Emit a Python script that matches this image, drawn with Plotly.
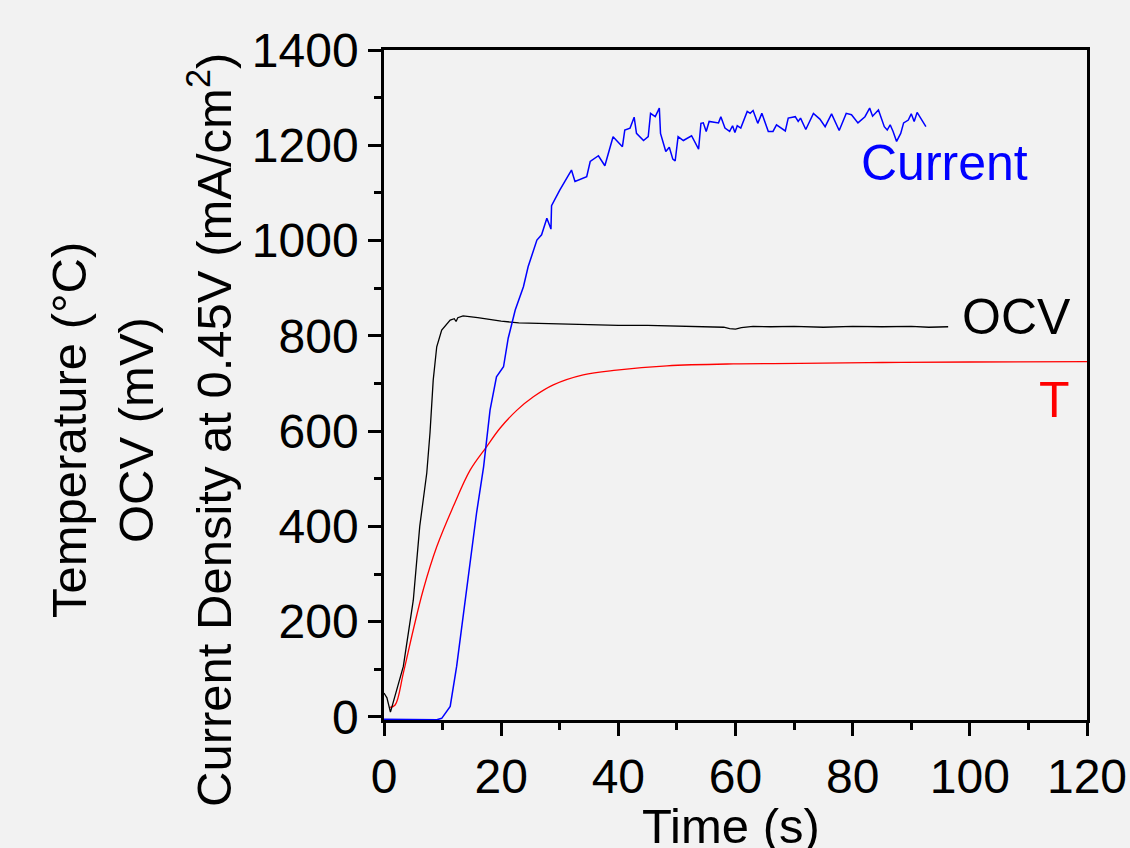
import plotly.graph_objects as go

# ---------------- data ----------------
time_current = [0, 5, 9, 9.85, 11.3, 12.4, 13.5, 14.7, 15.8, 17, 18.1, 19.2, 20.4, 21.2, 22.4, 23.8,
                24.6, 26.1, 26.9, 27.8, 28.5, 28.6, 30, 32, 32.6, 34.6, 35.2, 36.6, 37.7, 39.1, 40.7,
                41.1, 42, 42.7, 43.1, 44.3, 45.1, 45.5, 46.3, 47, 47.2, 48.1, 48.7, 49.3, 49.7, 50.2,
                51.1, 52.5, 53.7, 54.1, 54.5, 55, 55.5, 57.1, 57.5, 58.2, 59, 59.5, 59.9, 60.3, 60.9,
                62, 62.5, 63, 63.8, 64.5, 65.6, 66.4, 67, 68.5, 69, 70.2, 70.7, 71.1, 72, 73.3, 74.4,
                75.3, 76.4, 77.7, 78.9, 79.8, 80.9, 82.1, 82.9, 83.4, 84.4, 85.4, 85.9, 86.4, 86.9,
                87.5, 88.2, 88.7, 89.5, 90, 90.5, 91, 91.8, 92.5]
current = [-5, -5, -6, -3, 22, 106, 210, 315, 428, 525, 644, 714, 735, 795, 854, 903,
           945, 1001, 1012, 1047, 1024, 1073, 1106, 1148, 1124, 1134, 1166, 1178, 1157, 1218, 1197,
           1232, 1236, 1259, 1225, 1210, 1218, 1267, 1260, 1278, 1225, 1187, 1196, 1171, 1167, 1218,
           1210, 1220, 1192, 1246, 1247, 1229, 1250, 1247, 1260, 1236, 1229, 1241, 1227, 1241, 1236,
           1271, 1267, 1273, 1246, 1267, 1229, 1229, 1243, 1230, 1257, 1260, 1250, 1257, 1233, 1267, 1255,
           1239, 1266, 1231, 1267, 1264, 1247, 1260, 1278, 1261, 1274, 1239, 1232, 1243, 1229,
           1208, 1225, 1247, 1253, 1266, 1250, 1269, 1253, 1239]

time_ocv = [0, 0.5, 1.1, 2, 3.3, 5, 6.1, 7.3, 7.85, 8.4, 9.0, 9.85, 11.3, 12.0, 12.3, 12.6, 13.5,
            16, 18, 20, 23, 26, 30, 35, 40, 45, 50, 55, 58, 59, 60, 61, 63, 66, 70, 75, 80, 85,
            90, 93, 96.3]
ocv = [50, 40, 10, 50, 106, 245, 400, 512, 596, 707, 777, 812, 833, 836, 830, 838, 842,
       838, 834, 831, 827, 826, 824, 823, 822, 822, 821, 820, 818, 815, 814, 817, 820, 819,
       820, 818, 820, 819, 820, 818, 819]

time_temp = [1, 1.9, 3.3, 5, 6.7, 9, 11.8, 14.7, 17.5, 19.8, 22.7, 25.5, 28.9, 34, 39.7, 48.3,
             59.6, 71, 85, 100, 120]
temperature = [20, 25, 92, 183, 267, 357, 441, 518, 567, 606, 644, 672, 697, 718, 728, 737,
               741, 742, 744, 745, 746]

x_ticks = [0, 20, 40, 60, 80, 100, 120]
y_ticks = [0, 200, 400, 600, 800, 1000, 1200, 1400]

FONT = "Liberation Sans, Arial, sans-serif"

fig = go.Figure()
fig.add_trace(go.Scatter(x=time_temp, y=temperature, mode="lines", line_shape="spline",
                         line=dict(color="#ff0000", width=1.3), showlegend=False))
fig.add_trace(go.Scatter(x=time_ocv, y=ocv, mode="lines",
                         line=dict(color="#000000", width=1.3), showlegend=False))
fig.add_trace(go.Scatter(x=time_current, y=current, mode="lines",
                         line=dict(color="#0000ff", width=1.5), showlegend=False))

axis_common = dict(
    showline=True, linecolor="black", linewidth=2.5, mirror=True,
    ticks="outside", ticklen=13, tickwidth=2.5, tickcolor="black",
    showgrid=False, zeroline=False, automargin=False,
    tickfont=dict(family=FONT, size=48, color="black"),
)

fig.update_xaxes(range=[0, 120], tickvals=x_ticks, ticktext=[str(v) for v in x_ticks],
                 minor=dict(ticks="outside", ticklen=7, tickwidth=2.5, tickcolor="black", dtick=10,
                            tick0=0),
                 **axis_common)
fig.update_yaxes(range=[-6.5, 1400], tickvals=y_ticks, ticktext=[str(v) for v in y_ticks],
                 minor=dict(ticks="outside", ticklen=7, tickwidth=2.5, tickcolor="black", dtick=100,
                            tick0=0),
                 **axis_common)

# x-axis title
fig.add_annotation(text="Time (s)", xref="paper", yref="paper",
                   x=(731 - 384) / 703, y=(720 - 826) / 670, showarrow=False,
                   xanchor="center", yanchor="middle",
                   font=dict(family=FONT, size=49, color="black"))

# y-axis title (three lines)
ylab = ["Temperature (°C)", "OCV (mV)", "Current Density at 0.45V (mA/cm<sup>2</sup>)"]
ylab_x = [69, 136, 210]
for txt, px in zip(ylab, ylab_x):
    fig.add_annotation(text=txt, textangle=-90, xref="paper", yref="paper",
                       x=(px - 384) / 703, y=(720 - 430) / 670, showarrow=False,
                       xanchor="center", yanchor="middle",
                       font=dict(family=FONT, size=49, color="black"))

labels = [("Current", 95.6, 1163, "#0000ff"), ("OCV", 108, 840, "#000000"), ("T", 114.5, 665, "#ff0000")]
for txt, lx, ly, c in labels:
    fig.add_annotation(text=txt, x=lx, y=ly, showarrow=False, xanchor="center", yanchor="middle",
                       font=dict(family=FONT, size=50, color=c))

fig.update_layout(
    width=1130, height=848,
    margin=dict(l=384, r=43, t=50, b=128),
    paper_bgcolor="#f2f2f2", plot_bgcolor="#f2f2f2",
)

fig.write_html("out.html", config={"displayModeBar": False},
               post_script="document.body.style.margin='0';document.body.style.overflow='hidden';")
